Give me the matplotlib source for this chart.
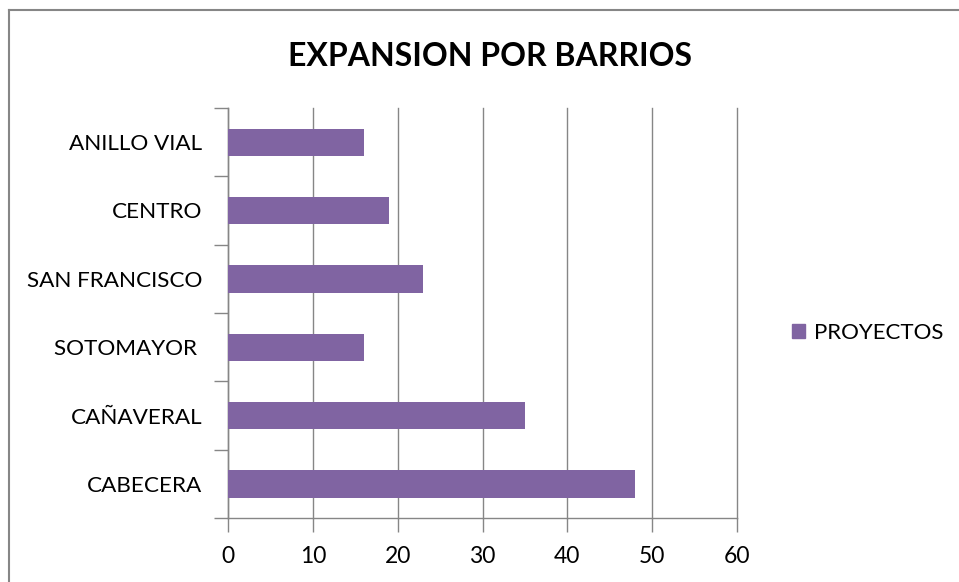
import matplotlib.pyplot as plt
from matplotlib.lines import Line2D
from matplotlib.patches import Patch
import numpy as np

## ------------------------------- ##
barrios = ["CABECERA", "CAÑAVERAL", "SOTOMAYOR ", "SAN FRANCISCO", "CENTRO", "ANILLO VIAL"]
proyectos = [48, 35, 16, 23, 19, 16]
x_ticks = [0, 10, 20, 30, 40, 50, 60]
titulo = "EXPANSION POR BARRIOS"
serie = "PROYECTOS"
## ------------------------------- ##

plt.rcParams['font.family'] = ['Lato', 'DejaVu Sans']
morado = "#8064A2"
gris = "#868686"

fig = plt.figure(figsize=(9.59, 5.82), dpi=100)
ax = fig.add_axes([228/959, 1 - 518/582, (737 - 228)/959, (518 - 108)/582])

pos = np.arange(len(barrios))
ax.barh(pos, proyectos, height=0.4, color=morado, zorder=3)

ax.set_xlim(0, 60)
ax.set_ylim(-0.5, len(barrios) - 0.5)
ax.set_xticks(x_ticks)
ax.set_xticklabels([str(t) for t in x_ticks], fontsize=16.5)

# ticks at category boundaries, labels centred on the bars
ax.set_yticks(np.arange(-0.5, len(barrios), 1.0))
ax.set_yticklabels([])
ax.set_yticks(pos, minor=True)
ax.set_yticklabels(barrios, minor=True, fontsize=16.2)
ax.tick_params(axis='y', which='minor', length=0, pad=18.5)
ax.tick_params(axis='y', which='major', length=10, width=1, color=gris, direction='out')
ax.tick_params(axis='x', length=10, width=1, color=gris, direction='out', pad=10)

ax.grid(axis='x', color=gris, linewidth=1, zorder=0)
for gl in ax.get_xgridlines():
    gl.set_clip_on(False)
for s in ['top', 'right']:
    ax.spines[s].set_visible(False)
for s in ['left', 'bottom']:
    ax.spines[s].set_color(gris)
    ax.spines[s].set_linewidth(1)

fig.text(490/959, 1 - 57/582, titulo, ha='center', va='center', fontsize=23, fontweight='bold')

leg = fig.legend(handles=[Patch(color=morado, label=serie)], loc='center left',
                 bbox_to_anchor=(772/959, 1 - 333/582), frameon=False, fontsize=16,
                 handlelength=0.6, handleheight=0.6, handletextpad=0.4)

# chart frame
fig.add_artist(Line2D([9/959, 9/959], [0, 1 - 10/582], color=gris, lw=1.5))
fig.add_artist(Line2D([9/959, 1], [1 - 10/582, 1 - 10/582], color=gris, lw=1.5))

fig.savefig("out.png", dpi=100)
